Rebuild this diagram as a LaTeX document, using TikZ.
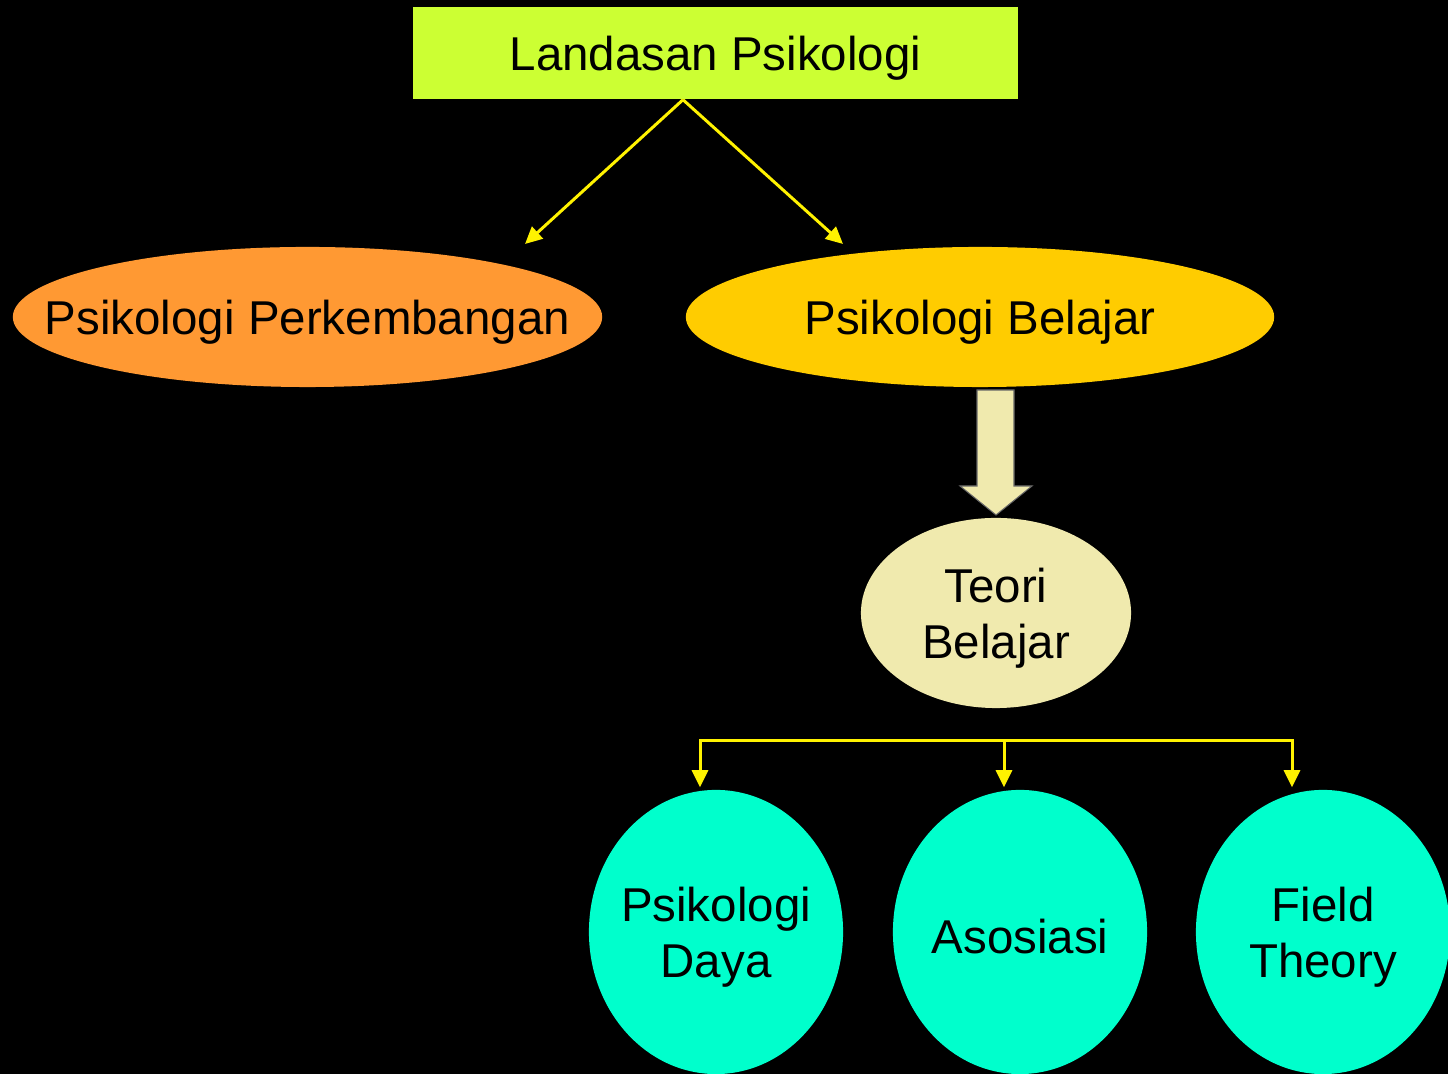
\documentclass[tikz,border=0pt]{standalone}
\usepackage{fontspec}
\setmainfont{Liberation Sans}
\usetikzlibrary{positioning, shapes.geometric, arrows.meta}
\definecolor{limebox}{HTML}{CCFF33}
\definecolor{orangeoval}{HTML}{FF9933}
\definecolor{goldoval}{HTML}{FFCC00}
\definecolor{paleoval}{HTML}{F0EAAE}
\definecolor{aquaoval}{HTML}{00FFCC}

\begin{document}
\begin{tikzpicture}[x=0.01cm, y=-0.01cm,
        every node/.style={font=\fontsize{13.5}{16}\selectfont},
        every label/.style={yshift=-0.05cm},
        oval/.style={ellipse, inner sep=0pt},
        link/.style={draw=yellow, line width=0.85pt},
        tip/.style={-{Triangle[length=0.17cm, width=0.16cm]}}]
    \fill[black] (0,0) rectangle (1448,1074);
    \useasboundingbox (0,0) rectangle (1448,1074);

    \node[fill=limebox, minimum width=6.05cm, minimum height=0.92cm,
        label=center:{Landasan Psikologi}] (land) at (715.5,53) {};

    \node[oval, fill=orangeoval, minimum width=5.89cm, minimum height=1.40cm,
        label=center:{Psikologi Perkembangan}] (pp) at (307.5,317) {};
    \node[oval, fill=goldoval, minimum width=5.88cm, minimum height=1.40cm,
        label=center:{Psikologi Belajar}] (pb) at (980,317) {};

    \node[oval, fill=paleoval, minimum width=2.70cm, minimum height=1.90cm,
        label={[align=center]center:{Teori\\Belajar}}] (tb) at (996,613) {};

    \node[oval, fill=aquaoval, minimum width=2.54cm, minimum height=2.84cm,
        label={[align=center]center:{Psikologi\\Daya}}] (pd) at (716,932) {};
    \node[oval, fill=aquaoval, minimum width=2.54cm, minimum height=2.84cm,
        label=center:{Asosiasi}] (as) at (1020,932) {};
    \node[oval, fill=aquaoval, minimum width=2.54cm, minimum height=2.84cm,
        label={[align=center]center:{Field\\Theory}}] (ft) at (1323,932) {};

    % arrows from the top box
    \coordinate (split) at ([xshift=-0.325cm]land.south);
    \coordinate (ppend) at (525,244);
    \coordinate (pbend) at (843,244);
    \draw[link, tip] (split) -- (ppend);
    \draw[link, tip] (split) -- (pbend);

    % block arrow
    \filldraw[fill=paleoval, draw=black!60, line width=0.3pt]
        (977,390) -- (1014,390) -- (1014,486) -- (1032,486) -- (996,515)
        -- (960,486) -- (977,486) -- cycle;

    % bracket to the three theories
    \coordinate (barL) at (700,741);
    \coordinate (barM) at (1004,741);
    \coordinate (barR) at (1292,741);
    \draw[link, {Triangle[length=0.17cm, width=0.16cm]}-{Triangle[length=0.17cm, width=0.16cm]}]
        ([yshift=0.02cm]barL |- pd.north) -- (barL) -- (barR) -- ([yshift=0.02cm]barR |- ft.north);
    \draw[link, tip] (barM) -- ([yshift=0.02cm]barM |- as.north);
\end{tikzpicture}
\end{document}
